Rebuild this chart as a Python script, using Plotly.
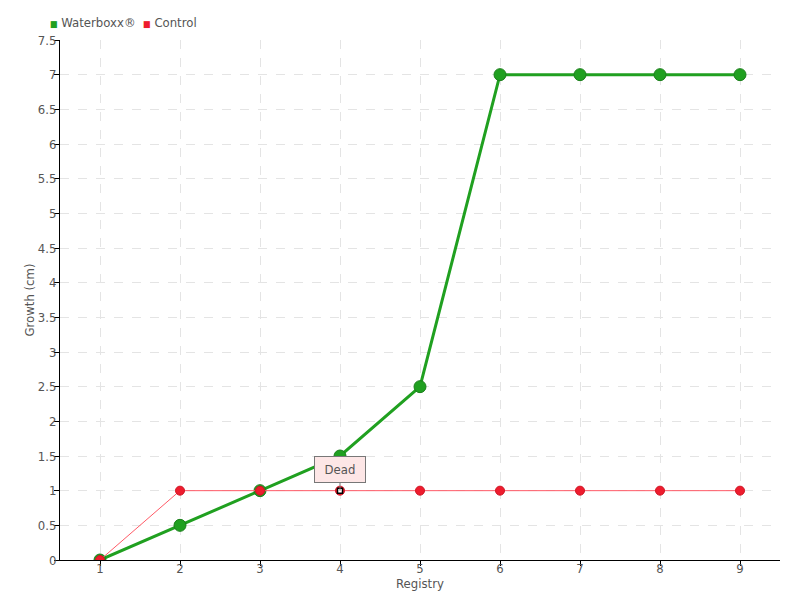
import plotly.graph_objects as go

registry = [1, 2, 3, 4, 5, 6, 7, 8, 9]
waterboxx = [0, 0.5, 1, 1.5, 2.5, 7, 7, 7, 7]
control = [0, 1, 1, 1, 1, 1, 1, 1, 1]
note_x = 4
note_y = 1
note_text = "Dead"
y_ticks = [0, 0.5, 1, 1.5, 2, 2.5, 3, 3.5, 4, 4.5, 5, 5.5, 6, 6.5, 7, 7.5]
series_names = ["Waterboxx®", "Control"]

FONT = "DejaVu Sans Condensed, Liberation Sans Narrow, Roboto, sans-serif"
GREEN = "#20a020"
RED = "#ee1c2e"

fig = go.Figure()
fig.add_trace(go.Scatter(
    x=registry, y=waterboxx, mode="lines+markers", name=series_names[0],
    line=dict(color=GREEN, width=3),
    marker=dict(color=GREEN, size=12, line=dict(color="#1a7f1a", width=1)),
))
fig.add_trace(go.Scatter(
    x=registry, y=control, mode="lines+markers", name=series_names[1],
    line=dict(color="#ff5a66", width=1),
    marker=dict(color=RED, size=9, line=dict(color="#d01020", width=1)),
))
fig.add_trace(go.Scatter(
    x=[note_x], y=[note_y], mode="markers", showlegend=False,
    marker=dict(symbol="square", color="white", size=5, line=dict(color="black", width=1.5)),
))

# compact legend as text with coloured squares
fig.add_annotation(
    xref="paper", yref="paper", x=-0.017, y=1.0, yshift=18,
    xanchor="left", yanchor="middle", showarrow=False,
    text=(f"<span style='color:{GREEN};font-size:9px'>■</span> {series_names[0]}  "
          f"<span style='color:{RED};font-size:9px'>■</span> {series_names[1]}"),
    font=dict(family=FONT, size=13, color="#555"),
)

fig.add_annotation(
    x=note_x, y=note_y, text=note_text, showarrow=True, arrowhead=0,
    arrowcolor="#777", arrowwidth=1, ax=0, ay=-21,
    bgcolor="#fde6e6", bordercolor="#777", borderwidth=1, borderpad=4,
    width=42, height=17,
    font=dict(family=FONT, size=13, color="#555"),
)

fig.update_layout(
    width=800, height=600,
    showlegend=False,
    margin=dict(l=52, r=28, t=32, b=48, autoexpand=False),
    paper_bgcolor="white", plot_bgcolor="white",
    font=dict(family=FONT, size=13, color="#555"),
    xaxis=dict(
        range=[0.5, 9.5], tickvals=registry, ticktext=[str(v) for v in registry],
        showline=True, linecolor="black", linewidth=1,
        ticks="outside", ticklen=5, tickcolor="black",
        showgrid=True, gridcolor="#e4e4e4", griddash="dash", gridwidth=1,
        zeroline=False, automargin=False, ticklabelstandoff=-9,
        title=dict(text="Registry", standoff=0, font=dict(size=13)),
        tickfont=dict(size=13),
    ),
    yaxis=dict(
        range=[0, 7.5], tickvals=y_ticks, ticktext=[f"{v:g}" for v in y_ticks],
        showline=True, linecolor="black", linewidth=1,
        ticks="outside", ticklen=5, tickcolor="black",
        showgrid=True, gridcolor="#e4e4e4", griddash="dash", gridwidth=1,
        zeroline=False, automargin=False, ticklabelstandoff=-5,
        title=dict(text="Growth (cm)", standoff=0, font=dict(size=13)),
        tickfont=dict(size=13),
    ),
)

fig.write_html("out.html")
